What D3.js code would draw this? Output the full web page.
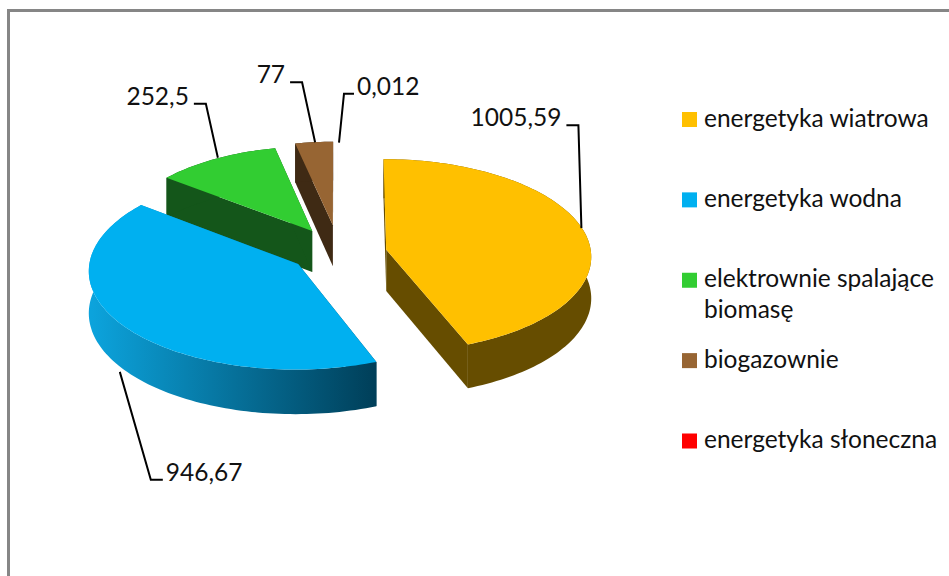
<!DOCTYPE html>
<html>
<head>
<meta charset="utf-8">
<script src="https://d3js.org/d3.v7.min.js"></script>
<style>
  body { margin: 0; background: #fff; }
  text { font-family: Lato, sans-serif; font-size: 24.5px; fill: #111; }
</style>
</head>
<body>
<div id="chart"></div>
<script>
// data
var categories = ["energetyka wiatrowa", "energetyka wodna", "elektrownie spalające biomasę", "biogazownie", "energetyka słoneczna"];
var values = [1005.59, 946.67, 252.5, 77, 0.012];
var valueLabels = ["1005,59", "946,67", "252,5", "77", "0,012"];

// look of each slice
var topColors = ["#ffc000", "#00b0f0", "#32cd32", "#976533", "#ff0000"];
var wallColors = ["#664d00", "url(#blueWall)", "#14561a", "#3f2a14", "#660000"];

// the slices sit a little tighter and higher than a plain projection gives
var radiusScale = [1, 1.01, 0.95, 0.94, 1];
var liftBack = [0, -4, -3.5, -6, 0];

// leader line: offset of the elbow from the slice edge, then the short horizontal run
var leaders = [
  {nudge: [-3, -4], elbow: [-3, -103], run: -12, anchor: "end"},
  {nudge: [-3, 3], elbow: [31, 108], run: 12, anchor: "start"},
  {nudge: [2, -1], elbow: [-12, -54], run: -12, anchor: "end"},
  {nudge: [1, 0], elbow: [-13, -60], run: -12, anchor: "end"},
  {nudge: [1, 0], elbow: [5, -49], run: 10, anchor: "start"}
];

var width = 949, height = 576;
var cx = 338, cy = 254, rx = 205, ry = 96.5, depth = 41.5;
var persp = 0.06, explode = 0.24;

var svg = d3.select("#chart").append("svg")
  .attr("width", width)
  .attr("height", height);

var grad = svg.append("defs").append("linearGradient")
  .attr("id", "blueWall")
  .attr("gradientUnits", "userSpaceOnUse")
  .attr("x1", 92).attr("x2", 375).attr("y1", 0).attr("y2", 0);
grad.append("stop").attr("offset", 0).attr("stop-color", "#0ca3dc");
grad.append("stop").attr("offset", 1).attr("stop-color", "#003f59");

// chart frame, cut by the right and bottom edges of the picture
svg.append("path")
  .attr("d", d3.line()([[8.5, height], [8.5, 10.5], [width, 10.5]]))
  .attr("fill", "none")
  .attr("stroke", "#868686")
  .attr("stroke-width", 3);

// flat disc coords + explosion -> screen, with a bit of perspective
function project(d, angle, radius, down) {
  var mid = (d.startAngle + d.endAngle) / 2;
  var r = radius * radiusScale[d.i];
  var X = explode * Math.sin(mid) + r * Math.sin(angle);
  var Y = -explode * Math.cos(mid) - r * Math.cos(angle);
  var s = 1 / (1 - persp * Y);
  return [cx + rx * X * s, cy + ry * Y * s + depth * down * s + liftBack[d.i]];
}

var pie = d3.pie().sort(null).value(function(d) { return d; });
var slices = pie(values);
slices.forEach(function(d, i) { d.i = i; });

function arcAngles(d) {
  var n = Math.max(2, Math.ceil((d.endAngle - d.startAngle) * 40));
  return d3.range(n + 1).map(function(k) {
    return d.startAngle + (d.endAngle - d.startAngle) * k / n;
  });
}

var polygon = d3.line().curve(d3.curveLinearClosed);

// back slices first so the front ones can cover them
var order = slices.slice().sort(function(a, b) {
  return project(a, 0, 0, 0)[1] - project(b, 0, 0, 0)[1];
});

var groups = svg.selectAll("g.slice")
  .data(order)
  .enter()
  .append("g")
  .attr("class", "slice");

groups.each(function(d) {
  var g = d3.select(this);
  var angles = arcAngles(d);
  var fill = wallColors[d.i];

  // the two cut faces
  [d.startAngle, d.endAngle].forEach(function(a) {
    g.append("path")
      .attr("d", polygon([project(d, a, 0, 0), project(d, a, 1, 0), project(d, a, 1, 1), project(d, a, 0, 1)]))
      .attr("fill", fill);
  });

  // outer wall
  var outer = angles.map(function(a) { return project(d, a, 1, 0); })
    .concat(angles.slice().reverse().map(function(a) { return project(d, a, 1, 1); }));
  g.append("path").attr("d", polygon(outer)).attr("fill", fill);

  // top face
  var top = [project(d, 0, 0, 0)].concat(angles.map(function(a) { return project(d, a, 1, 0); }));
  g.append("path").attr("d", polygon(top)).attr("fill", topColors[d.i]);
});

// value labels with their leader lines
slices.forEach(function(d, i) {
  var mid = (d.startAngle + d.endAngle) / 2;
  var l = leaders[i];
  var start = project(d, mid, 1, Math.cos(mid) < 0 ? 1 : 0);
  start = [start[0] + l.nudge[0], start[1] + l.nudge[1]];
  var elbow = [start[0] + l.elbow[0], start[1] + l.elbow[1]];
  var end = [elbow[0] + l.run, elbow[1]];

  svg.append("path")
    .attr("d", d3.line()([start, elbow, end]))
    .attr("fill", "none")
    .attr("stroke", "#000")
    .attr("stroke-width", 2);

  svg.append("text")
    .attr("x", end[0] + (l.run < 0 ? -5 : 3))
    .attr("y", end[1] + 1)
    .attr("text-anchor", l.anchor)
    .text(valueLabels[i]);
});

// legend
var legendY = d3.scalePoint().domain(categories).range([119.5, 441]);

var legend = svg.selectAll("g.legend")
  .data(categories)
  .enter()
  .append("g")
  .attr("class", "legend")
  .attr("transform", function(d) { return "translate(682," + legendY(d) + ")"; });

legend.append("rect")
  .attr("y", -7.5)
  .attr("width", 15)
  .attr("height", 15)
  .attr("fill", function(d, i) { return topColors[i]; });

legend.append("text")
  .attr("x", 22)
  .attr("y", 7)
  .each(function(d) {
    // long names wrap after the second word
    var words = d.split(" ");
    var t = d3.select(this);
    t.append("tspan").attr("x", 22).text(words.slice(0, 2).join(" "));
    if (words.length > 2) {
      t.append("tspan").attr("x", 22).attr("dy", 31).text(words.slice(2).join(" "));
    }
  });
</script>
</body>
</html>
